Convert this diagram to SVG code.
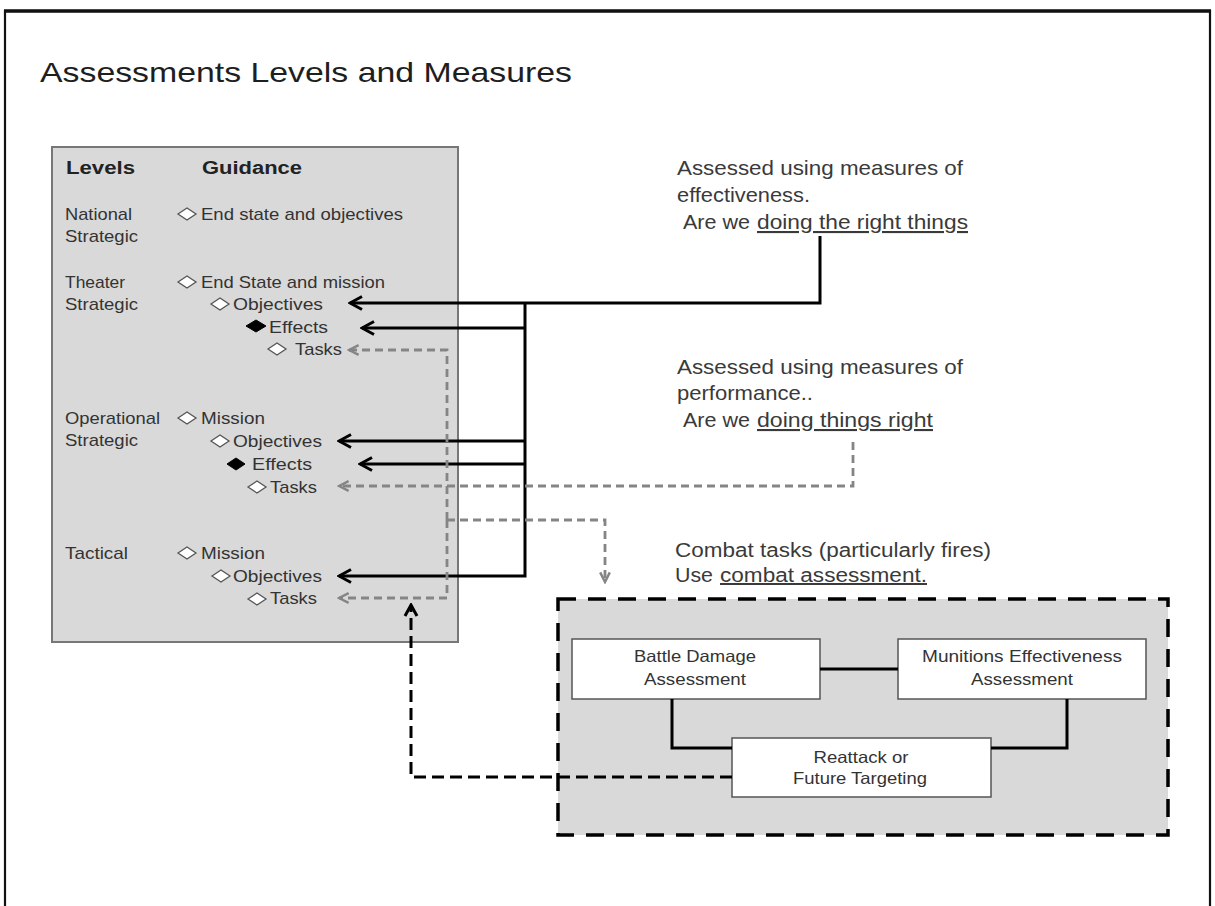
<svg xmlns="http://www.w3.org/2000/svg" width="1215" height="906" viewBox="0 0 1215 906">
  <style>
    text { font-family: "Liberation Sans", Arial, sans-serif; fill: #333; }
    .title { font-size: 28px; fill: #1e1e1e; }
    .hdr { font-size: 17.5px; font-weight: bold; fill: #222; }
    .lv { font-size: 17px; }
    .note { font-size: 21px; fill: #3a3a3a; }
    .box { font-size: 16.5px; text-anchor: middle; }
    .ul { text-decoration: underline; }
    .dia { fill: #fff; stroke: #555; stroke-width: 1.3; }
    .dia-f { fill: #000; stroke: #000; stroke-width: 1; }
    .solid { fill: none; stroke: #000; stroke-width: 3; }
    .gdash { fill: none; stroke: #858585; stroke-width: 2.8; stroke-dasharray: 8 5; }
    .kdash { fill: none; stroke: #000; stroke-width: 3; stroke-dasharray: 12 6; }
    .link { fill: none; stroke: #000; stroke-width: 3; }
  </style>
  <defs>
    <marker id="arrow-black" markerUnits="userSpaceOnUse" viewBox="0 0 16 16" refX="14" refY="8" markerWidth="16" markerHeight="16" orient="auto">
      <path d="M2,1.5 L14,8 L2,14.5" fill="none" stroke="#000" stroke-width="3"/>
    </marker>
    <marker id="arrow-gray" markerUnits="userSpaceOnUse" viewBox="0 0 16 16" refX="14" refY="8" markerWidth="14" markerHeight="14" orient="auto">
      <path d="M3,2.5 L14,8 L3,13.5" fill="none" stroke="#858585" stroke-width="2.8"/>
    </marker>
    <marker id="arrow-kdash" markerUnits="userSpaceOnUse" viewBox="0 0 16 16" refX="14" refY="8" markerWidth="16" markerHeight="16" orient="auto">
      <path d="M3,2 L14,8 L3,14" fill="none" stroke="#000" stroke-width="3"/>
    </marker>
  </defs>

  <rect width="1215" height="906" fill="#fff"/>

  <!-- slide frame -->
  <g id="frame">
    <rect x="5" y="11" width="1205" height="920" fill="none" stroke="#111" stroke-width="2.2"/>
    <line x1="4" y1="11" x2="1211" y2="11" stroke="#111" stroke-width="3.5"/>
  </g>

  <text id="title" class="title" x="40" y="82" textLength="532" lengthAdjust="spacingAndGlyphs">Assessments Levels and Measures</text>

  <!-- levels / guidance panel -->
  <g id="levels-panel">
    <rect x="52" y="147" width="406" height="495" fill="#d9d9d9" stroke="#777" stroke-width="2"/>
    <text class="hdr" x="66" y="174" textLength="69" lengthAdjust="spacingAndGlyphs">Levels</text>
    <text class="hdr" x="202" y="174" textLength="100" lengthAdjust="spacingAndGlyphs">Guidance</text>
  </g>

  <g id="level-national">
    <text class="lv" x="65" y="220" textLength="67" lengthAdjust="spacingAndGlyphs">National</text>
    <text class="lv" x="65" y="242" textLength="73" lengthAdjust="spacingAndGlyphs">Strategic</text>
    <polygon class="dia" points="178,214 187,208 196,214 187,220"/>
    <text class="lv" x="201" y="220" textLength="202" lengthAdjust="spacingAndGlyphs">End state and objectives</text>
  </g>

  <g id="level-theater">
    <text class="lv" x="65" y="288" textLength="60" lengthAdjust="spacingAndGlyphs">Theater</text>
    <text class="lv" x="65" y="310" textLength="73" lengthAdjust="spacingAndGlyphs">Strategic</text>
    <polygon class="dia" points="178,282 187,276 196,282 187,288"/>
    <text class="lv" x="201" y="288" textLength="184" lengthAdjust="spacingAndGlyphs">End State and mission</text>
    <polygon class="dia" points="211,304 220,298 229,304 220,310"/>
    <text class="lv" x="233" y="310" textLength="90" lengthAdjust="spacingAndGlyphs">Objectives</text>
    <polygon class="dia-f" points="246,326 256,320 266,326 256,332"/>
    <text class="lv" x="269" y="333" textLength="59" lengthAdjust="spacingAndGlyphs">Effects</text>
    <polygon class="dia" points="268,349 277,343 286,349 277,355"/>
    <text class="lv" x="295" y="355" textLength="47" lengthAdjust="spacingAndGlyphs">Tasks</text>
  </g>

  <g id="level-operational">
    <text class="lv" x="65" y="424" textLength="95" lengthAdjust="spacingAndGlyphs">Operational</text>
    <text class="lv" x="65" y="446" textLength="73" lengthAdjust="spacingAndGlyphs">Strategic</text>
    <polygon class="dia" points="178,418 187,412 196,418 187,424"/>
    <text class="lv" x="201" y="424" textLength="64" lengthAdjust="spacingAndGlyphs">Mission</text>
    <polygon class="dia" points="211,441 220,435 229,441 220,447"/>
    <text class="lv" x="233" y="447" textLength="89" lengthAdjust="spacingAndGlyphs">Objectives</text>
    <polygon class="dia-f" points="227,464 236,458 245,464 236,470"/>
    <text class="lv" x="252" y="470" textLength="60" lengthAdjust="spacingAndGlyphs">Effects</text>
    <polygon class="dia" points="248,487 257,481 266,487 257,493"/>
    <text class="lv" x="270" y="493" textLength="47" lengthAdjust="spacingAndGlyphs">Tasks</text>
  </g>

  <g id="level-tactical">
    <text class="lv" x="65" y="559" textLength="63" lengthAdjust="spacingAndGlyphs">Tactical</text>
    <polygon class="dia" points="178,553 187,547 196,553 187,559"/>
    <text class="lv" x="201" y="559" textLength="64" lengthAdjust="spacingAndGlyphs">Mission</text>
    <polygon class="dia" points="212,576 221,570 230,576 221,582"/>
    <text class="lv" x="233" y="582" textLength="89" lengthAdjust="spacingAndGlyphs">Objectives</text>
    <polygon class="dia" points="248,599 257,593 266,599 257,605"/>
    <text class="lv" x="270" y="604" textLength="47" lengthAdjust="spacingAndGlyphs">Tasks</text>
  </g>

  <!-- measures of effectiveness note -->
  <g id="note-moe">
    <text class="note" x="677" y="175" textLength="286" lengthAdjust="spacingAndGlyphs">Assessed using measures of</text>
    <text class="note" x="677" y="202" textLength="133" lengthAdjust="spacingAndGlyphs">effectiveness.</text>
    <text class="note" x="683" y="229" textLength="67" lengthAdjust="spacingAndGlyphs">Are we</text>
    <text class="note ul" x="757" y="229" textLength="211" lengthAdjust="spacingAndGlyphs">doing the right things</text>
  </g>

  <!-- measures of performance note -->
  <g id="note-mop">
    <text class="note" x="677" y="374" textLength="286" lengthAdjust="spacingAndGlyphs">Assessed using measures of</text>
    <text class="note" x="677" y="400" textLength="136" lengthAdjust="spacingAndGlyphs">performance..</text>
    <text class="note" x="683" y="427" textLength="67" lengthAdjust="spacingAndGlyphs">Are we</text>
    <text class="note ul" x="757" y="427" textLength="176" lengthAdjust="spacingAndGlyphs">doing things right</text>
  </g>

  <!-- combat assessment note -->
  <g id="note-combat">
    <text class="note" x="675" y="557" style="font-size:20px" textLength="316" lengthAdjust="spacingAndGlyphs">Combat tasks (particularly fires)</text>
    <text class="note" x="675" y="582" style="font-size:20px" textLength="38" lengthAdjust="spacingAndGlyphs">Use</text>
    <text class="note ul" x="720" y="582" style="font-size:20px" textLength="207" lengthAdjust="spacingAndGlyphs">combat assessment.</text>
  </g>

  <!-- combat assessment area -->
  <g id="combat-area">
    <rect x="558" y="599" width="610" height="236" fill="#d9d9d9" stroke="#000" stroke-width="3.5" stroke-dasharray="18 12"/>
  </g>

  <g id="node-bda">
    <rect x="572" y="639" width="248" height="60" fill="#fff" stroke="#555" stroke-width="1.5"/>
    <text class="box" x="695" y="662" textLength="122" lengthAdjust="spacingAndGlyphs">Battle Damage</text>
    <text class="box" x="695" y="685" textLength="102" lengthAdjust="spacingAndGlyphs">Assessment</text>
  </g>

  <g id="node-mea">
    <rect x="898" y="639" width="248" height="60" fill="#fff" stroke="#555" stroke-width="1.5"/>
    <text class="box" x="1022" y="662" textLength="200" lengthAdjust="spacingAndGlyphs">Munitions Effectiveness</text>
    <text class="box" x="1022" y="685" textLength="102" lengthAdjust="spacingAndGlyphs">Assessment</text>
  </g>

  <g id="node-reattack">
    <rect x="732" y="738" width="259" height="59" fill="#fff" stroke="#555" stroke-width="1.5"/>
    <text class="box" x="861" y="763" textLength="95" lengthAdjust="spacingAndGlyphs">Reattack or</text>
    <text class="box" x="860" y="784" textLength="134" lengthAdjust="spacingAndGlyphs">Future Targeting</text>
  </g>

  <!-- connectors -->
  <g id="connectors">
    <!-- effectiveness feedback -->
    <path class="solid" d="M820,236 V303 H350" marker-end="url(#arrow-black)"/>
    <path class="solid" d="M525,303 V576 H339" marker-end="url(#arrow-black)"/>
    <path class="solid" d="M525,328 H362" marker-end="url(#arrow-black)"/>
    <path class="solid" d="M525,441 H339" marker-end="url(#arrow-black)"/>
    <path class="solid" d="M525,464 H360" marker-end="url(#arrow-black)"/>

    <!-- performance feedback -->
    <path class="gdash" d="M853,442 V486 H339" marker-end="url(#arrow-gray)"/>
    <path class="gdash" d="M447,520 V350 H349" marker-end="url(#arrow-gray)"/>
    <path class="gdash" d="M447,520 V598 H339" marker-end="url(#arrow-gray)"/>
    <path class="gdash" d="M447,520 H605 V582" marker-end="url(#arrow-gray)"/>

    <!-- reattack back to tactical tasks -->
    <path class="kdash" d="M732,777 H411 V605" marker-end="url(#arrow-kdash)"/>

    <!-- combat assessment links -->
    <path class="link" d="M820,669 H898"/>
    <path class="link" d="M672,699 V748 H732"/>
    <path class="link" d="M1067,699 V748 H991"/>
  </g>
</svg>
